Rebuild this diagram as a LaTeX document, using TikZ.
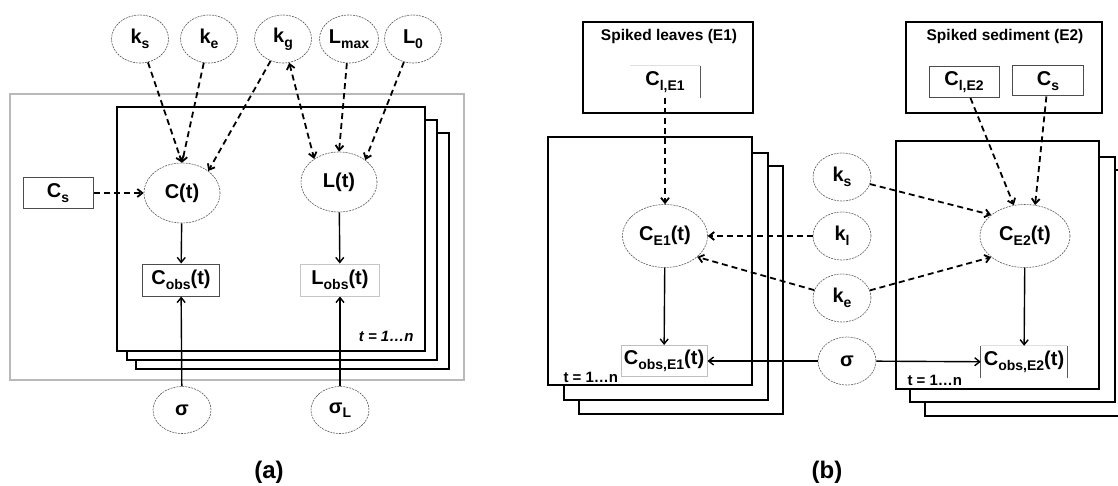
\documentclass[tikz,border=0pt]{standalone}
\usepackage{fontspec}
\setmainfont{Liberation Sans}
\usetikzlibrary{shapes.geometric,arrows.meta}
\newcommand\sbs[1]{\raisebox{-4.5pt}{\fontsize{14}{14}\selectfont #1}}
\begin{document}
\begin{tikzpicture}[x=1pt,y=-1pt,
 par/.style={ellipse, draw=gray!70!black, line width=0.6pt, dash pattern=on 2pt off 1pt, inner sep=0pt, minimum width=57pt, minimum height=48pt, font=\bfseries\fontsize{20}{20}\selectfont},
 latent/.style={par, minimum width=76pt, minimum height=60pt},
 obs/.style={rectangle, draw=gray!60!black, line width=1pt, inner sep=0pt, minimum height=32pt, font=\bfseries\fontsize{20}{20}\selectfont},
 plainbox/.style={rectangle, inner sep=0pt, minimum height=32pt, font=\bfseries\fontsize{20}{20}\selectfont},
 plate/.style={draw=black, line width=2.2pt, fill=white},
 grp/.style={draw=black, line width=1.8pt},
 dep/.style={dash pattern=on 6pt off 4pt, line width=1.8pt, -{Straight Barb[length=5pt,width=8pt]}},
 link/.style={line width=1.4pt, -{Straight Barb[length=5pt,width=8pt]}},
 ttl/.style={font=\bfseries\fontsize{15.5}{16}\selectfont},
 idx/.style={font=\bfseries\fontsize{15}{15}\selectfont},
 captxt/.style={font=\bfseries\fontsize{24}{24}\selectfont},
]
\useasboundingbox (0,0) rectangle (1118,486);
\fill[white] (0,0) rectangle (1118,486);

% ---------------- panel (a) ----------------
\draw[gray!55, line width=1.2pt] (10,94) rectangle (464,380);
\draw[plate] (136,133) rectangle (449,369);
\draw[plate] (127,120) rectangle (437,360);
\draw[plate] (117,107) rectangle (425,351);

\node[par] (ks) at (140,39) {k\sbs{s}};
\node[par] (ke) at (209,39) {k\sbs{e}};
\node[par] (kg) at (283,39) {k\sbs{g}};
\node[par, minimum width=59pt] (Lmax) at (349,39) {L\sbs{max}};
\node[par] (L0) at (413,39) {L\sbs{0}};

\node[latent] (Ct) at (182,193) {C(t)};
\node[latent] (Lt) at (339,182) {L(t)};
\node[obs, minimum width=70pt, minimum height=31pt] (Cs) at (58,193) {C\sbs{s}};
\node[obs, minimum width=77pt] (Cobs) at (181,280) {C\sbs{obs}(t)};
\node[obs, draw=gray!45, minimum width=79pt] (Lobs) at (340,280) {L\sbs{obs}(t)};
\node[idx, anchor=east, font=\bfseries\itshape\fontsize{15}{15}\selectfont] (ta) at (417,336) {t = 1\dots n};
\node[par, minimum width=58pt, minimum height=47pt] (sig) at (182,410) {σ};
\node[par, minimum width=58pt, minimum height=47pt] (sigL) at (340,410) {σ\sbs{L}};
\node[captxt] (capa) at (269,472) {(a)};

\draw[dep] (ks) -- (Ct.north);
\draw[dep] (ke) -- (Ct.north);
\draw[dep] (kg) -- (Ct.40);
\draw[dep, {Straight Barb[length=5pt,width=8pt]}-{Straight Barb[length=5pt,width=8pt]}] (kg) -- (Lt.137);
\draw[dep] (Lmax) -- (Lt.north);
\draw[dep] (L0) -- (Lt.40);
\draw[dep] (Cs) -- (Ct);
\draw[link] (Ct) -- (Cobs);
\draw[link] (Lt) -- (Lobs);
\draw[link] (sig) -- (Cobs);
\draw[link] (sigL) -- (Lobs);

% ---------------- panel (b) ----------------
\draw[grp] (583,22) rectangle (753,113);
\node[ttl] (t1) at (669,36) {Spiked leaves (E1)};
\node[plainbox, minimum width=70pt] (Cl1) at (665,82) {C\sbs{l,E1}};
\draw[gray!25, line width=0.8pt] (Cl1.north west) -- (Cl1.north east);
\draw[gray!70!black, line width=0.8pt] (Cl1.north east) -- (Cl1.south east);

\draw[grp] (906,22) rectangle (1102,113);
\node[ttl] (t2) at (1005,36) {Spiked sediment (E2)};
\node[obs, minimum width=70pt, minimum height=31pt] (Cl2) at (964,82) {C\sbs{l,E2}};
\node[obs, minimum width=71pt, minimum height=30pt] (Cs2) at (1048,81) {C\sbs{s}};

\draw[plate] (579,166) rectangle (783,414);
\draw[plate] (564,153) rectangle (768,400);
\draw[plate] (548,137) rectangle (752,385);
\draw[plate] (925,170) rectangle (1135,416);
\draw[plate] (910,157) rectangle (1115,402);
\draw[plate] (896,141) rectangle (1099,389);

\node[par, minimum width=85pt, minimum height=63pt] (CE1) at (665,236) {C\sbs{E1}(t)};
\node[par, minimum width=90pt, minimum height=63pt] (CE2) at (1025,236) {C\sbs{E2}(t)};
\node[par, minimum width=58pt] (ks2) at (842,177) {k\sbs{s}};
\node[par, minimum width=58pt] (kl) at (842,236) {k\sbs{l}};
\node[par, minimum width=58pt] (ke2) at (842,298) {k\sbs{e}};
\node[par, minimum width=58pt] (sig2) at (847,361) {σ};
\node[obs, draw=gray!50, minimum width=86pt, minimum height=31pt] (Co1) at (664,361) {C\sbs{obs,E1}(t)};
\node[plainbox, minimum width=86pt] (Co2) at (1024,362) {C\sbs{obs,E2}(t)};
\draw[gray!25, line width=0.8pt] (Co2.north west) -- (Co2.north east);
\draw[gray!70!black, line width=0.8pt] (Co2.north west) -- (Co2.south west);
\draw[gray!70!black, line width=0.8pt] (Co2.north east) -- (Co2.south east);
\node[idx, anchor=west] (tb1) at (560,377) {t = 1\dots n};
\node[idx, anchor=west] (tb2) at (904,380) {t = 1\dots n};
\node[captxt] (capb) at (827,472) {(b)};

\draw[dep] (Cl1) -- (CE1);
\draw[dep] (Cl2) -- (CE2.110);
\draw[dep] (Cs2) -- (CE2.72);
\draw[dep] (ks2) -- (CE2.148);
\draw[dep] (ke2) -- (CE2.212);
\draw[dep] (kl) -- (CE1);
\draw[dep] (ke2) -- (CE1.-33);
\draw[link] (CE1) -- (Co1);
\draw[link] (CE2) -- (Co2);
\draw[link] (sig2) -- (Co1);
\draw[link] (sig2) -- (Co2);
\end{tikzpicture}
\end{document}
